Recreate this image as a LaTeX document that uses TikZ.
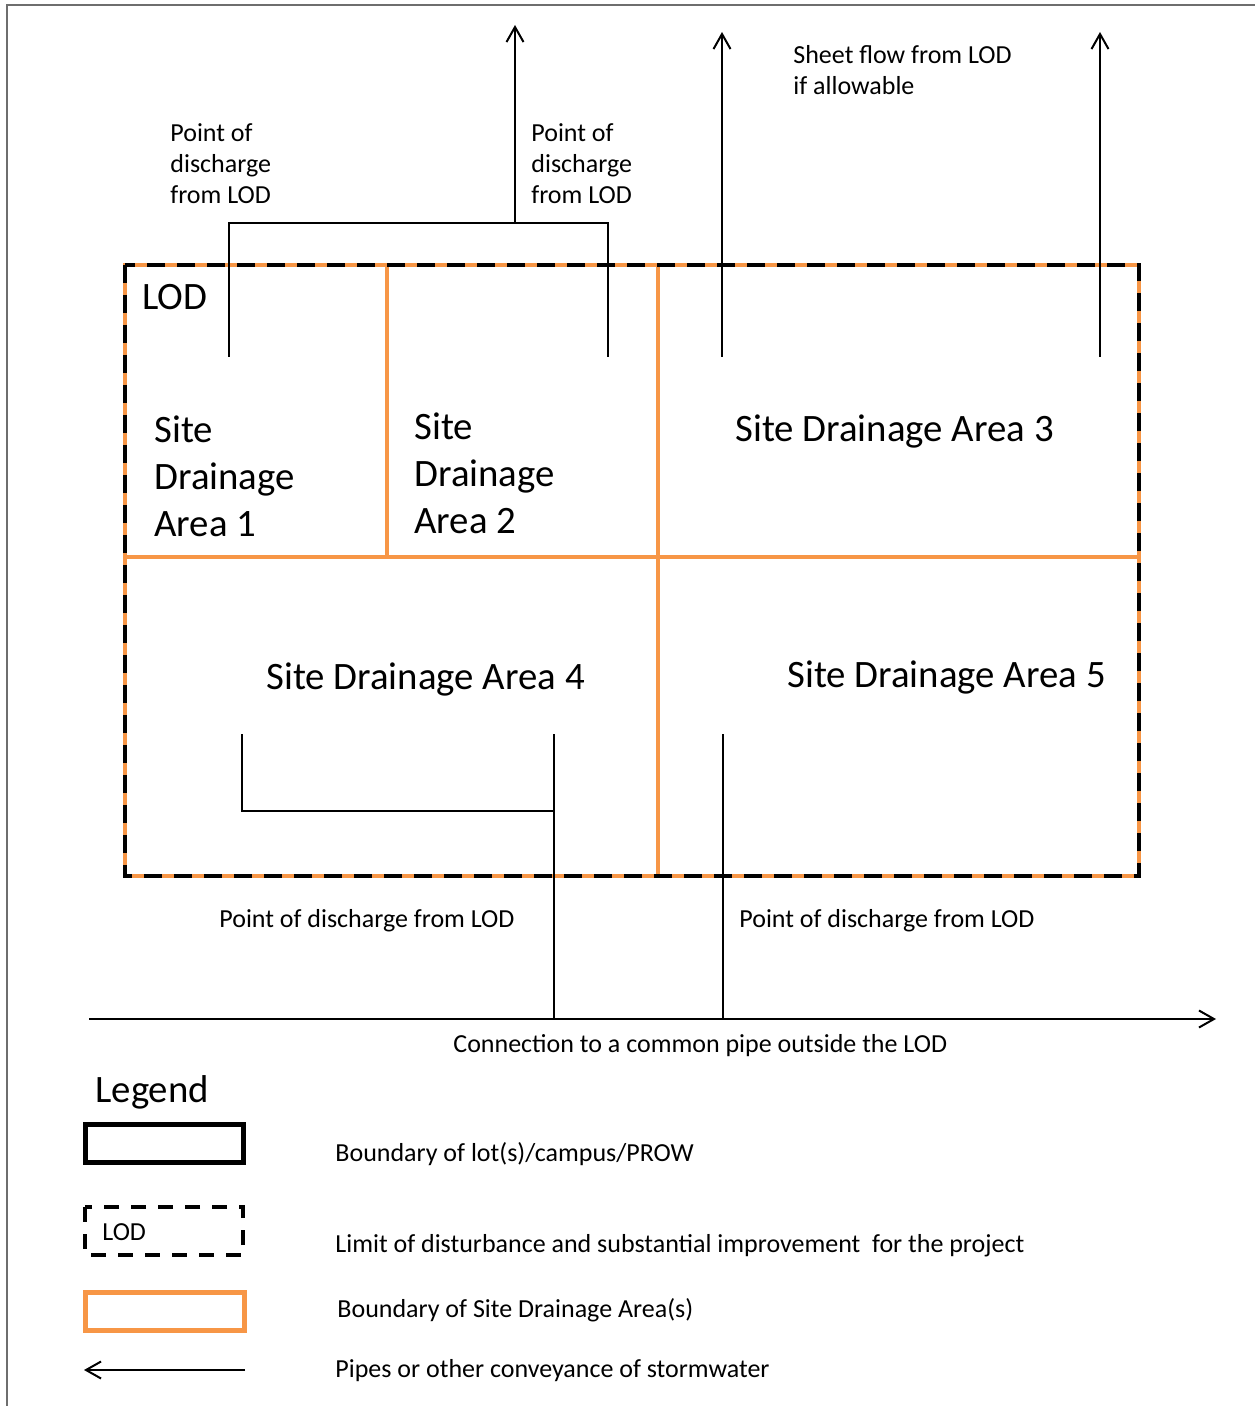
\documentclass[tikz,border=0pt]{standalone}
\usepackage{fontspec}
\setmainfont{Carlito}
\usetikzlibrary{arrows.meta}
\definecolor{sdorange}{RGB}{247,150,70}
\definecolor{framegray}{RGB}{110,110,110}
\begin{document}
\begin{tikzpicture}[x=0.5pt,y=-0.5pt,
  pipe/.style={line width=1pt},
  pipearrow/.style={pipe,-{Straight Barb[length=7.5pt,width=8.5pt]}},
  sdline/.style={sdorange,line width=2.2pt},
  lodline/.style={black,line width=2.2pt,dash pattern=on 9pt off 6pt},
  small/.style={font=\fontsize{13}{15.5}\selectfont,inner sep=0pt,align=left,anchor=base west},
  big/.style={font=\fontsize{19.4}{23.5}\selectfont,inner sep=0pt,align=left,anchor=base west},
]
\useasboundingbox (0,0) rectangle (1255,1406);
\fill[white] (0,0) rectangle (1255,1406);
\draw[framegray,line width=0.75pt] (7,1406) -- (7,5) -- (1255,5);

% drainage area boundaries
\draw[sdline] (125,265) rectangle (1139,876);
\draw[sdline] (387,265) -- (387,557);
\draw[sdline] (658,265) -- (658,876);
\draw[sdline] (125,557) -- (1139,557);
% LOD
\draw[lodline] (125,265) rectangle (1139,876);

% top pipes
\coordinate (p1s) at (229,357);
\coordinate (p1c) at (229,223);
\coordinate (p2s) at (608,357);
\coordinate (p2c) at (608,223);
\coordinate (jn) at (515,223);
\coordinate (out1) at (515,25);
\draw[pipe] (p1s) -- (p1c) -- (p2c) -- (p2s);
\draw[pipearrow] (jn) -- (out1);
\coordinate (p3s) at (722,357);
\coordinate (out3) at (722,32);
\draw[pipearrow] (p3s) -- (out3);
\coordinate (p4s) at (1100,357);
\coordinate (out4) at (1100,32);
\draw[pipearrow] (p4s) -- (out4);

% bottom pipes
\coordinate (p5s) at (242,734);
\coordinate (p5c) at (242,811);
\coordinate (p6j) at (554,811);
\coordinate (p6s) at (554,734);
\coordinate (p6e) at (554,1019);
\coordinate (p7s) at (723,734);
\coordinate (p7e) at (723,1019);
\draw[pipe] (p5s) -- (p5c) -- (p6j);
\draw[pipe] (p6s) -- (p6e);
\draw[pipe] (p7s) -- (p7e);
\coordinate (cp0) at (89,1019);
\coordinate (cp1) at (1216,1019);
\draw[pipearrow] (cp0) -- (cp1);

% texts (multi-line nodes: base = last line)
\node[small] (t1) at (170,204) {Point of\\discharge\\from LOD};
\node[small] (t2) at (531,204) {Point of\\discharge\\from LOD};
\node[small] (t3) at (793,95) {Sheet flow from LOD\\if allowable};
\node[big] (lod) at (142,310) {LOD};
\node[big] (a1) at (154,536) {Site\\Drainage\\Area 1};
\node[big] (a2) at (414,533) {Site\\Drainage\\Area 2};
\node[big] (a3) at (735,442) {Site Drainage Area 3};
\node[big] (a4) at (266,689) {Site Drainage Area 4};
\node[big] (a5) at (787,687) {Site Drainage Area 5};
\node[small] (d1) at (219,927) {Point of discharge from LOD};
\node[small] (d2) at (739,927) {Point of discharge from LOD};
\node[small] (cpt) at (453,1052) {Connection to a common pipe outside the LOD};

% legend
\node[big] (leg) at (95,1102) {Legend};
\draw[line width=2.5pt] (85.5,1124.5) rectangle (243.5,1162.5);
\draw[line width=2pt,dash pattern=on 7.5pt off 6pt] (85,1207) rectangle (243,1255);
\node[small] (llod) at (102,1240) {LOD};
\draw[sdorange,line width=2.5pt] (85.5,1292.5) rectangle (244.5,1330.5);
\coordinate (la0) at (245,1370);
\coordinate (la1) at (84,1370);
\draw[pipearrow] (la0) -- (la1);
\node[small] (l1) at (335,1161) {Boundary of lot(s)/campus/PROW};
\node[small] (l2) at (335,1252) {Limit of disturbance and substantial improvement\ \ for the project};
\node[small] (l3) at (337,1317) {Boundary of Site Drainage Area(s)};
\node[small] (l4) at (335,1377) {Pipes or other conveyance of stormwater};
\end{tikzpicture}
\end{document}
